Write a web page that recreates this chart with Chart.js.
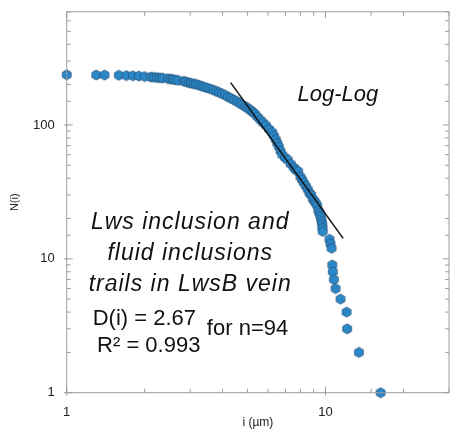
<!DOCTYPE html>
<html>
<head>
<meta charset="utf-8">
<script src="https://cdn.jsdelivr.net/npm/chart.js@4.4.1/dist/chart.umd.min.js"></script>
<style>
  html, body { margin: 0; padding: 0; background: #fff; }
</style>
</head>
<body>
<canvas id="fractalChart" width="459" height="434"></canvas>
<script>
// i (µm) for each of the 94 measured points
const sizes = [
  1.00, 1.30, 1.40,
  1.59, 1.70, 1.80, 1.90, 2.00, 2.11, 2.17, 2.23, 2.29, 2.35,
  2.46, 2.52, 2.57, 2.63, 2.70, 2.83, 2.89, 2.96, 3.02, 3.09,
  3.16, 3.24, 3.32, 3.40, 3.49, 3.59, 3.69, 3.79, 3.88, 3.98,
  4.09, 4.20, 4.31, 4.42, 4.54, 4.66, 4.78, 4.90, 5.01, 5.13,
  5.23, 5.33, 5.46, 5.60, 5.74, 5.89, 6.05, 6.22, 6.32, 6.42,
  6.51, 6.60, 6.70, 6.80, 6.97, 7.14, 7.34, 7.54, 7.69, 7.84,
  8.00, 8.12, 8.24, 8.39, 8.54, 8.67, 8.80, 8.93, 9.06, 9.17,
  9.29, 9.38, 9.48, 9.55, 9.62, 9.67, 9.71, 9.73, 9.75,
  10.36, 10.45, 10.55, 10.62, 10.67, 10.77, 10.94, 11.43, 12.06, 12.12, 13.46, 16.33
];

// N(i)
const counts = [
  237, 236, 236,
  235, 234, 233, 232, 230, 228, 227, 226, 225, 224,
  222, 220, 219, 217, 215, 212, 210, 207, 205, 203,
  201, 198, 195, 192, 189, 186, 182, 178, 175, 171,
  167, 162, 158, 154, 150, 145, 141, 137, 133, 129,
  125, 121, 115, 109, 104, 99, 93, 88, 83, 78,
  73, 69, 64, 60, 57, 55, 51, 48, 46, 45,
  41, 39, 37, 35, 33, 31, 30, 28, 27, 26,
  25, 23, 22, 21, 20, 19, 18, 17, 16,
  14, 13, 12, 9, 8, 7, 6, 5, 4, 3, 2, 1
];

// power-law fit segment, D(i) = 2.67
const fitX = [4.3, 11.7];
const fitY = [207, 14.2];

const xLabelled = [1, 10];
const yLabelled = [1, 10, 100];

const FONT = "'Liberation Sans', Arial, sans-serif";

// hexagon marker drawn once on a small canvas
function hexMarker(r) {
  const c = document.createElement('canvas');
  const s = Math.ceil(r * 2 + 2);
  c.width = s; c.height = s;
  const g = c.getContext('2d');
  g.beginPath();
  for (let k = 0; k < 6; k++) {
    const a = Math.PI / 6 + k * Math.PI / 3;
    g.lineTo(s / 2 + r * Math.cos(a), s / 2 + r * Math.sin(a));
  }
  g.closePath();
  g.fillStyle = '#2b88c8';
  g.fill();
  g.strokeStyle = '#24527a';
  g.lineWidth = 0.8;
  g.stroke();
  return c;
}

function isDecade(v) {
  const l = Math.log10(v);
  return Math.abs(l - Math.round(l)) < 1e-6;
}

// frame, inward ticks and the text notes
const framePlugin = {
  id: 'framePlugin',
  afterDraw(chart) {
    const { ctx, chartArea: a, scales: { x, y } } = chart;
    ctx.save();
    ctx.strokeStyle = '#9c9c9c';
    ctx.lineWidth = 1;
    ctx.strokeRect(a.left, a.top, a.right - a.left, a.bottom - a.top);
    ctx.beginPath();
    x.ticks.forEach(t => {
      const px = x.getPixelForValue(t.value);
      const major = isDecade(t.value);
      const len = major ? 6 : 4;
      ctx.moveTo(px, a.bottom + (major ? 3 : 0)); ctx.lineTo(px, a.bottom - len);
      ctx.moveTo(px, a.top); ctx.lineTo(px, a.top + len);
    });
    y.ticks.forEach(t => {
      const py = y.getPixelForValue(t.value);
      const major = isDecade(t.value);
      const len = major ? 6 : 4;
      ctx.moveTo(a.left - (major ? 3 : 0), py); ctx.lineTo(a.left + len, py);
      ctx.moveTo(a.right, py); ctx.lineTo(a.right - len, py);
    });
    ctx.stroke();

    ctx.fillStyle = '#111';
    ctx.textBaseline = 'alphabetic';

    ctx.font = 'italic 22px ' + FONT;
    ctx.textAlign = 'left';
    ctx.fillText('Log-Log', x.getPixelForValue(7.8), y.getPixelForValue(150));

    ctx.font = 'italic 23px ' + FONT;
    ctx.textAlign = 'center';
    ctx.letterSpacing = '1px';
    const cx = x.getPixelForValue(3.0);
    const by = y.getPixelForValue(16.8);
    ['Lws inclusion and', 'fluid inclusions', 'trails in LwsB vein'].forEach((line, k) => {
      ctx.fillText(line, cx, by + k * 31);
    });
    ctx.letterSpacing = '0px';

    ctx.font = '22px ' + FONT;
    ctx.textAlign = 'left';
    ctx.fillText('D(i) = 2.67', x.getPixelForValue(1.26), y.getPixelForValue(3.22));
    ctx.fillText('R\u00b2 = 0.993', x.getPixelForValue(1.31), y.getPixelForValue(2.02));
    ctx.fillText('for n=94', x.getPixelForValue(3.48), y.getPixelForValue(2.71));
    ctx.restore();
  }
};

const ctx = document.getElementById('fractalChart').getContext('2d');
const hex = hexMarker(5);

new Chart(ctx, {
  type: 'scatter',
  data: {
    datasets: [
      {
        label: 'fit',
        data: fitX.map((v, k) => ({ x: v, y: fitY[k] })),
        showLine: true,
        borderColor: '#111',
        borderWidth: 1.5,
        pointRadius: 0,
        order: 0
      },
      {
        label: 'N(i)',
        data: sizes.map((v, k) => ({ x: v, y: counts[k] })),
        pointStyle: hex,
        pointRadius: 5,
        clip: false,
        order: 1
      }
    ]
  },
  options: {
    responsive: false,
    animation: false,
    events: [],
    layout: { padding: { left: 0, right: 10, top: 10, bottom: 0 } },
    plugins: { legend: { display: false }, tooltip: { enabled: false } },
    scales: {
      x: {
        type: 'logarithmic',
        min: 1,
        max: 30,
        grid: { display: false },
        border: { display: false },
        afterFit: s => { s.height = 41.3; },
        ticks: {
          autoSkip: false,
          maxRotation: 0,
          padding: 4,
          color: '#222',
          font: { family: FONT, size: 13 },
          callback: v => xLabelled.includes(v) ? String(v) : ''
        },
        title: {
          display: true,
          text: 'i (\u00b5m)',
          color: '#222',
          font: { family: FONT, size: 12 },
          padding: { top: 0, bottom: 4 }
        }
      },
      y: {
        type: 'logarithmic',
        min: 1,
        max: 700,
        grid: { display: false },
        border: { display: false },
        afterFit: s => { s.width = 66.7; },
        ticks: {
          autoSkip: false,
          padding: 4,
          color: '#222',
          font: { family: FONT, size: 13 },
          callback: v => yLabelled.includes(v) ? String(v) : ''
        },
        title: {
          display: true,
          text: 'N(i)',
          color: '#222',
          font: { family: FONT, size: 11 },
          padding: { top: 8, bottom: 0 }
        }
      }
    }
  },
  plugins: [framePlugin]
});
</script>
</body>
</html>
